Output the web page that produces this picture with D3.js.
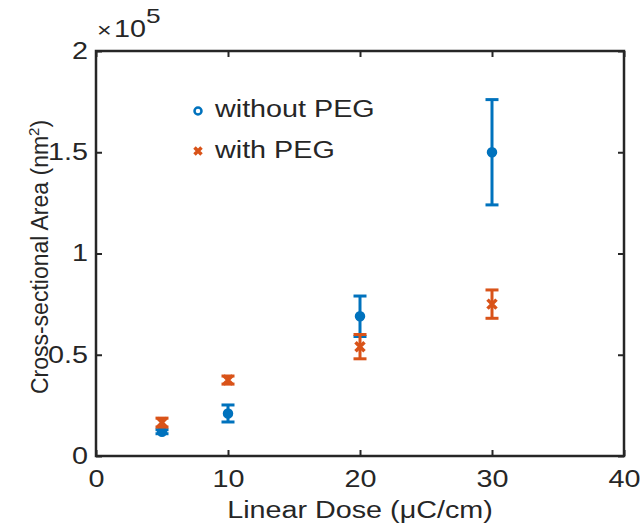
<!DOCTYPE html>
<html><head><meta charset="utf-8">
<script src="https://cdn.jsdelivr.net/npm/d3@7"></script>
<style>body{margin:0;background:#fff}svg{display:block}text{font-family:"Liberation Sans",Arial,sans-serif;fill:#262626}</style>
</head><body>
<script>
const doses = [5, 10, 20, 30];
const withoutPEG = [0.12, 0.21, 0.69, 1.50];
const withoutPEGErr = [0.01, 0.042, 0.10, 0.26];
const withPEG = [0.165, 0.375, 0.54, 0.75];
const withPEGErr = [0.022, 0.02, 0.06, 0.07];
const xTicks = [0, 10, 20, 30, 40];
const yTicks = [0, 0.5, 1, 1.5, 2];
const yTickLabels = ["0", "0.5", "1", "1.5", "2"];

const W = 642, H = 529;
const m = {l: 96, r: 18, t: 51, b: 73};
const SX = 1.25; // horizontal stretch of the original figure's text
const svg = d3.select("body").append("svg").attr("width", W).attr("height", H);
const x = d3.scaleLinear().domain([0, 40]).range([m.l, W - m.r]);
const y = d3.scaleLinear().domain([0, 2]).range([H - m.b, m.t]);
const blue = "#0072BD", orange = "#D95319", ink = "#262626";

// axes
const fs = "23px";
const gx = svg.append("g").attr("transform", `translate(0,${H - m.b})`)
  .call(d3.axisBottom(x).tickValues(xTicks).tickSize(-6).tickPadding(15).tickFormat(d3.format("d")));
const gxt = svg.append("g").attr("transform", `translate(0,${m.t})`)
  .call(d3.axisTop(x).tickValues(xTicks).tickSize(-6).tickFormat(""));
const gy = svg.append("g").attr("transform", `translate(${m.l},0)`)
  .call(d3.axisLeft(y).tickValues(yTicks).tickSize(-6).tickPadding(8).tickFormat((d, i) => yTickLabels[i]));
const gyr = svg.append("g").attr("transform", `translate(${W - m.r},0)`)
  .call(d3.axisRight(y).tickValues(yTicks).tickSize(-6).tickFormat(""));
[gx, gxt, gy, gyr].forEach(g => {
  g.select(".domain").remove();
  g.selectAll(".tick line").attr("stroke", ink).attr("stroke-width", 2);
  g.selectAll(".tick text").attr("font-size", fs).attr("fill", ink)
   .style("font-family", '"Liberation Sans", Arial, sans-serif');
});
gx.selectAll(".tick text").attr("dy", "0.71em").attr("transform", `scale(${SX},1)`);
gy.selectAll(".tick text").attr("x", -8 / SX).attr("transform", `scale(${SX},1)`);
svg.append("rect").attr("x", m.l).attr("y", m.t).attr("width", W - m.r - m.l).attr("height", H - m.b - m.t)
  .attr("fill", "none").attr("stroke", ink).attr("stroke-width", 2.5);

function stext(px, py, size, anchor) {
  return svg.append("text").attr("transform", `translate(${px},${py}) scale(${SX},1)`)
    .attr("font-size", size).attr("text-anchor", anchor || "start");
}

// exponent label
const ex = stext(m.l + 1, 37, "23px");
ex.append("tspan").text("×").attr("font-size", "20px");
ex.append("tspan").text("10").attr("dx", 2);
ex.append("tspan").text("5").attr("font-size", "21px").attr("dy", -14);

// axis titles
stext((m.l + W - m.r) / 2, 518, "23px", "middle").text("Linear Dose (μC/cm)");
const yl = svg.append("text").attr("transform", `translate(48,257) rotate(-90)`)
  .attr("text-anchor", "middle").attr("font-size", "23px");
yl.append("tspan").text("Cross-sectional Area (nm");
yl.append("tspan").text("2").attr("font-size", "15px").attr("dy", -9);
yl.append("tspan").text(")").attr("dy", 9);

// error bars
function errBars(vals, errs, color) {
  const g = svg.append("g").attr("stroke", color).attr("stroke-width", 3).attr("fill", "none");
  doses.forEach((d, i) => {
    const cx = x(d), y0 = y(vals[i] - errs[i]), y1 = y(vals[i] + errs[i]);
    g.append("line").attr("x1", cx).attr("x2", cx).attr("y1", y0).attr("y2", y1);
    g.append("line").attr("x1", cx - 6.5).attr("x2", cx + 6.5).attr("y1", y0).attr("y2", y0);
    g.append("line").attr("x1", cx - 6.5).attr("x2", cx + 6.5).attr("y1", y1).attr("y2", y1);
  });
  return g;
}
function crossPath(cx, cy, s) {
  return `M${cx - s},${cy - s}L${cx + s},${cy + s}M${cx - s},${cy + s}L${cx + s},${cy - s}`;
}
errBars(withoutPEG, withoutPEGErr, blue);
svg.append("g").selectAll("circle").data(doses).join("circle")
  .attr("cx", d => x(d)).attr("cy", (d, i) => y(withoutPEG[i])).attr("r", 4)
  .attr("fill", blue).attr("stroke", blue).attr("stroke-width", 2.5);
errBars(withPEG, withPEGErr, orange);
svg.append("g").selectAll("path").data(doses).join("path")
  .attr("d", (d, i) => crossPath(x(d), y(withPEG[i]), 4.5))
  .attr("stroke", orange).attr("stroke-width", 3.5).attr("fill", "none");

// legend
svg.append("circle").attr("cx", 198).attr("cy", 111).attr("r", 3.5)
  .attr("fill", "#fff").attr("stroke", blue).attr("stroke-width", 2.5);
stext(215, 117, "23px").text("without PEG");
svg.append("path").attr("d", crossPath(198, 151, 3.5)).attr("stroke", orange).attr("stroke-width", 3.5);
stext(215, 158, "23px").text("with PEG");
</script>
</body></html>
